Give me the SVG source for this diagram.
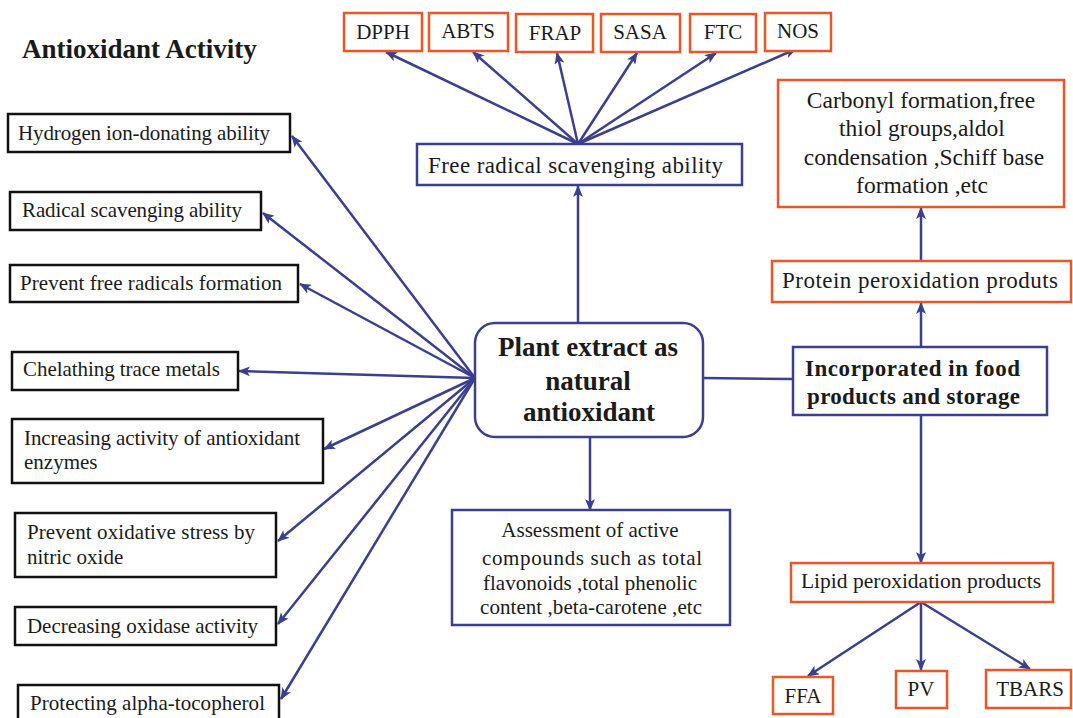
<svg xmlns="http://www.w3.org/2000/svg" width="1073" height="718" viewBox="0 0 1073 718">
  <style>
    .t { font-family: "Liberation Serif", "Times New Roman", serif; font-size: 21px; fill: #1a1a1a; }
    .b { font-weight: bold; }
    .big { font-size: 27px; }
    .mid { font-size: 23px; }
    .bk { fill: #fff; stroke: #111; stroke-width: 2.5; }
    .or { fill: #fff; stroke: #e8562a; stroke-width: 2.5; }
    .bl { fill: #fff; stroke: #3b3f8e; stroke-width: 2.5; }
    .c { text-anchor: middle; }
    #connectors line { stroke: #3b3f8e; stroke-width: 2.5; fill: none; }
    #connectors .a { marker-end: url(#arr); }
  </style>
  <defs>
    <marker id="arr" viewBox="0 0 12 10" refX="11" refY="5" markerWidth="12" markerHeight="10" markerUnits="userSpaceOnUse" orient="auto">
      <path d="M0,0 L12,5 L0,10 L3,5 z" fill="#3b3f8e"/>
    </marker>
  </defs>
  <rect width="1073" height="718" fill="#fff"/>

  <text class="t b" x="22" y="58" style="font-size:27px">Antioxidant Activity</text>

  <g id="connectors">
    <!-- fan to the activity boxes on the left -->
    <line class="a" x1="475" y1="378" x2="292" y2="136"/>
    <line class="a" x1="475" y1="378" x2="263" y2="213"/>
    <line class="a" x1="475" y1="378" x2="300" y2="284"/>
    <line class="a" x1="475" y1="378" x2="239" y2="371"/>
    <line class="a" x1="475" y1="378" x2="324" y2="449"/>
    <line class="a" x1="475" y1="378" x2="278" y2="541"/>
    <line class="a" x1="475" y1="378" x2="278" y2="624"/>
    <line class="a" x1="475" y1="378" x2="281" y2="699"/>
    <!-- up to free radical scavenging, then to the assays -->
    <line class="a" x1="578" y1="323" x2="578" y2="186"/>
    <line class="a" x1="578" y1="144" x2="386" y2="52"/>
    <line class="a" x1="578" y1="144" x2="473" y2="52"/>
    <line class="a" x1="578" y1="144" x2="557" y2="53"/>
    <line class="a" x1="578" y1="144" x2="637" y2="53"/>
    <line class="a" x1="578" y1="144" x2="716" y2="53"/>
    <line class="a" x1="578" y1="144" x2="796" y2="49"/>
    <!-- down to assessment -->
    <line class="a" x1="590" y1="437" x2="590" y2="510"/>
    <!-- right to food products -->
    <line x1="703" y1="378" x2="793" y2="379"/>
    <line class="a" x1="921" y1="347" x2="921" y2="303"/>
    <line class="a" x1="921" y1="261" x2="921" y2="208"/>
    <line class="a" x1="921" y1="415" x2="921" y2="563"/>
    <line class="a" x1="921" y1="602" x2="808" y2="676"/>
    <line class="a" x1="921" y1="602" x2="921" y2="670"/>
    <line class="a" x1="921" y1="602" x2="1030" y2="669"/>
  </g>

  <g id="hydrogen">
    <rect class="bk" x="8" y="114" width="282" height="38"/>
    <text class="t" x="18" y="140" textLength="252" lengthAdjust="spacing">Hydrogen ion-donating ability</text>
  </g>
  <g id="radical">
    <rect class="bk" x="10" y="192" width="251" height="38"/>
    <text class="t" x="22" y="217" textLength="220" lengthAdjust="spacing">Radical scavenging ability</text>
  </g>
  <g id="prevent-free">
    <rect class="bk" x="10" y="265" width="288" height="37"/>
    <text class="t" x="20" y="290" textLength="262" lengthAdjust="spacing">Prevent free radicals formation</text>
  </g>
  <g id="chelating">
    <rect class="bk" x="12" y="352" width="226" height="38"/>
    <text class="t" x="23" y="376" textLength="197" lengthAdjust="spacing">Chelathing  trace metals</text>
  </g>
  <g id="enzymes">
    <rect class="bk" x="12" y="419" width="311" height="64"/>
    <text class="t" x="24" y="445" textLength="276" lengthAdjust="spacing">Increasing activity  of antioxidant</text>
    <text class="t" x="24" y="469">enzymes</text>
  </g>
  <g id="nitric">
    <rect class="bk" x="15" y="513" width="261" height="64"/>
    <text class="t" x="27" y="539" textLength="228" lengthAdjust="spacing">Prevent oxidative  stress by</text>
    <text class="t" x="27" y="564">nitric  oxide</text>
  </g>
  <g id="oxidase">
    <rect class="bk" x="15" y="607" width="261" height="38"/>
    <text class="t" x="27" y="633" textLength="231" lengthAdjust="spacing">Decreasing  oxidase activity</text>
  </g>
  <g id="tocopherol">
    <rect class="bk" x="18" y="685" width="261" height="40"/>
    <text class="t" x="30" y="710" textLength="235" lengthAdjust="spacing">Protecting alpha-tocopherol</text>
  </g>

  <g id="plant-extract">
    <rect x="475" y="323" width="228" height="114" rx="20" ry="20" fill="#fff" stroke="#3b3f8e" stroke-width="2.5"/>
    <text class="t b c big" x="588" y="356">Plant extract as</text>
    <text class="t b c big" x="588" y="390">natural</text>
    <text class="t b c big" x="589" y="421">antioxidant</text>
  </g>

  <g id="free-radical">
    <rect class="bl" x="417" y="144" width="325" height="41"/>
    <text class="t mid" x="428" y="173" textLength="295" lengthAdjust="spacing">Free radical  scavenging  ability</text>
  </g>
  <g id="dpph">
    <rect class="or" x="344" y="13" width="78" height="38"/>
    <text class="t c" x="383" y="39">DPPH</text>
  </g>
  <g id="abts">
    <rect class="or" x="429" y="13" width="79" height="38"/>
    <text class="t c" x="468" y="38">ABTS</text>
  </g>
  <g id="frap">
    <rect class="or" x="516" y="14" width="77" height="38"/>
    <text class="t c" x="555" y="40">FRAP</text>
  </g>
  <g id="sasa">
    <rect class="or" x="601" y="14" width="79" height="38"/>
    <text class="t c" x="640" y="39">SASA</text>
  </g>
  <g id="ftc">
    <rect class="or" x="690" y="14" width="66" height="38"/>
    <text class="t c" x="723" y="39">FTC</text>
  </g>
  <g id="nos">
    <rect class="or" x="765" y="13" width="66" height="38"/>
    <text class="t c" x="798" y="38">NOS</text>
  </g>

  <g id="assessment">
    <rect class="bl" x="452" y="510" width="278" height="115"/>
    <text class="t c" x="590" y="537">Assessment of active</text>
    <text class="t c" x="592" y="565" textLength="220" lengthAdjust="spacing">compounds such as total</text>
    <text class="t c" x="590" y="590" textLength="214" lengthAdjust="spacing">flavonoids ,total phenolic</text>
    <text class="t c" x="591" y="614" textLength="222" lengthAdjust="spacing">content ,beta-carotene ,etc</text>
  </g>

  <g id="food">
    <rect class="bl" x="793" y="347" width="254" height="68"/>
    <text class="t b" x="805" y="376" textLength="215" lengthAdjust="spacing" style="font-size:23px">Incorporated in food</text>
    <text class="t b" x="807" y="404" textLength="213" lengthAdjust="spacing" style="font-size:23px">products and storage</text>
  </g>
  <g id="protein">
    <rect class="or" x="772" y="261" width="299" height="41"/>
    <text class="t mid" x="782" y="288" textLength="276" lengthAdjust="spacing">Protein peroxidation  produts</text>
  </g>
  <g id="carbonyl">
    <rect class="or" x="778" y="80" width="286" height="127"/>
    <text class="t c" x="921" y="108" style="font-size:23.5px">Carbonyl  formation,free</text>
    <text class="t c" x="922" y="136" style="font-size:23.5px">thiol groups,aldol</text>
    <text class="t c" x="924" y="165" style="font-size:23.5px">condensation  ,Schiff base</text>
    <text class="t c" x="922" y="193" style="font-size:23.5px">formation ,etc</text>
  </g>
  <g id="lipid">
    <rect class="or" x="791" y="563" width="262" height="39"/>
    <text class="t c" x="921" y="588" style="font-size:21.5px">Lipid peroxidation products</text>
  </g>
  <g id="ffa">
    <rect class="or" x="773" y="677" width="60" height="37"/>
    <text class="t c" x="803" y="703">FFA</text>
  </g>
  <g id="pv">
    <rect class="or" x="896" y="671" width="51" height="37"/>
    <text class="t c" x="921" y="696">PV</text>
  </g>
  <g id="tbars">
    <rect class="or" x="986" y="670" width="85" height="38"/>
    <text class="t c" x="1030" y="696">TBARS</text>
  </g>
</svg>
